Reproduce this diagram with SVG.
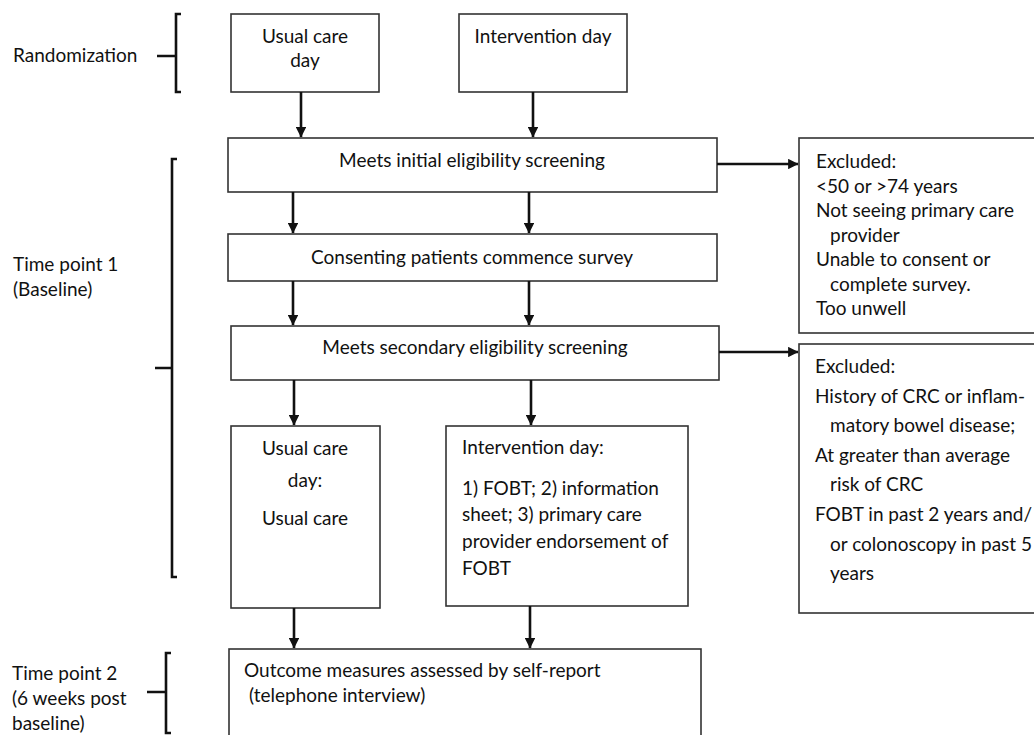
<svg xmlns="http://www.w3.org/2000/svg" width="1034" height="735" viewBox="0 0 1034 735">
<defs>
<style>
text{font-family:Lato,"Liberation Sans",sans-serif;font-size:19px;fill:#111}
.c{text-anchor:middle}
.box{fill:#fff;stroke:#333;stroke-width:1.6}
.br{fill:none;stroke:#111;stroke-width:2.6;stroke-linecap:butt}
.ar{fill:none;stroke:#111;stroke-width:2.6}
</style>
<marker id="ah" viewBox="0 0 10 10" refX="9.5" refY="5" markerWidth="4" markerHeight="4" orient="auto" markerUnits="strokeWidth">
<path d="M0,0 L10,5 L0,10 z" fill="#111"/>
</marker>
</defs>
<rect width="1034" height="735" fill="#fff"/>

<g id="labels">
<text x="13" y="62">Randomization</text>
<path class="br" d="M157,56 H176 M181,14 H176 V92 H181"/>
<text x="13" y="271">Time point 1</text>
<text x="13" y="296">(Baseline)</text>
<path class="br" d="M155,368 H172 M177,159 H172 V577 H177"/>
<text x="12" y="680">Time point 2</text>
<text x="12" y="705">(6 weeks post</text>
<text x="12" y="730">baseline)</text>
<path class="br" d="M147,692 H166 M171,653 H166 V733 H171"/>
</g>

<g id="n-usual-rand">
<rect class="box" x="231" y="14" width="148" height="78"/>
<text class="c" x="305" y="43">Usual care</text>
<text class="c" x="305" y="67">day</text>
</g>
<g id="n-interv-rand">
<rect class="box" x="459" y="14" width="168" height="78"/>
<text class="c" x="543" y="43">Intervention day</text>
</g>
<g id="n-initial">
<rect class="box" x="228" y="138" width="489" height="54"/>
<text class="c" x="472" y="167">Meets initial eligibility screening</text>
</g>
<g id="n-consent">
<rect class="box" x="228" y="234" width="489" height="47"/>
<text class="c" x="472" y="264">Consenting patients commence survey</text>
</g>
<g id="n-secondary">
<rect class="box" x="231" y="326" width="488" height="54"/>
<text class="c" x="475" y="354">Meets secondary eligibility screening</text>
</g>
<g id="n-excl1">
<rect class="box" x="799" y="138" width="240" height="195"/>
<text x="816" y="168">Excluded:</text>
<text x="816" y="193">&lt;50 or &gt;74 years</text>
<text x="816" y="217">Not seeing primary care</text>
<text x="830" y="242">provider</text>
<text x="816" y="266">Unable to consent or</text>
<text x="830" y="291">complete survey.</text>
<text x="816" y="315">Too unwell</text>
</g>
<g id="n-excl2">
<rect class="box" x="799" y="344" width="240" height="269"/>
<text x="815" y="373">Excluded:</text>
<text x="815" y="403">History of CRC or inflam-</text>
<text x="830" y="432">matory bowel disease;</text>
<text x="815" y="462">At greater than average</text>
<text x="830" y="491">risk of CRC</text>
<text x="815" y="521">FOBT in past 2 years and/</text>
<text x="830" y="551">or colonoscopy in past 5</text>
<text x="830" y="580">years</text>
</g>
<g id="n-usual">
<rect class="box" x="231" y="426" width="149" height="182"/>
<text class="c" x="305" y="455">Usual care</text>
<text class="c" x="305" y="487">day:</text>
<text class="c" x="305" y="525">Usual care</text>
</g>
<g id="n-interv">
<rect class="box" x="446" y="426" width="242" height="180"/>
<text x="462" y="454">Intervention day:</text>
<text x="462" y="495">1) FOBT; 2) information</text>
<text x="462" y="521">sheet; 3) primary care</text>
<text x="462" y="548">provider endorsement of</text>
<text x="462" y="575">FOBT</text>
</g>
<g id="n-outcome">
<rect class="box" x="229" y="649" width="472" height="100"/>
<text x="244" y="677">Outcome measures assessed by self-report</text>
<text x="249" y="702">(telephone interview)</text>
</g>

<g id="connectors">
<path class="ar" marker-end="url(#ah)" d="M301,92 V137"/>
<path class="ar" marker-end="url(#ah)" d="M533,92 V137"/>
<path class="ar" marker-end="url(#ah)" d="M293,192 V233"/>
<path class="ar" marker-end="url(#ah)" d="M529,192 V233"/>
<path class="ar" marker-end="url(#ah)" d="M293,281 V325"/>
<path class="ar" marker-end="url(#ah)" d="M529,281 V325"/>
<path class="ar" marker-end="url(#ah)" d="M294,380 V425"/>
<path class="ar" marker-end="url(#ah)" d="M531,380 V425"/>
<path class="ar" marker-end="url(#ah)" d="M294,608 V648"/>
<path class="ar" marker-end="url(#ah)" d="M530,606 V648"/>
<path class="ar" marker-end="url(#ah)" d="M717,164 H798"/>
<path class="ar" marker-end="url(#ah)" d="M719,352 H798"/>
</g>
</svg>
